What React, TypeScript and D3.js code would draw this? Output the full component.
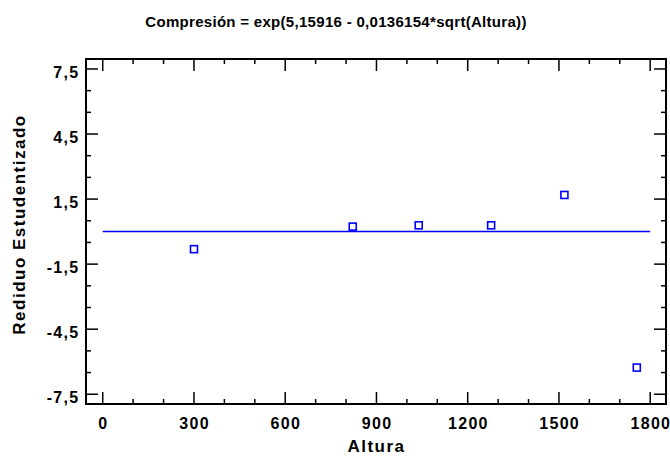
import React from "react";
import * as d3 from "d3";

const alturaValues = [300, 822, 1039, 1277, 1518, 1756];
const residuoValues = [-0.81, 0.23, 0.29, 0.29, 1.69, -6.27];
const xTickValues = [0, 300, 600, 900, 1200, 1500, 1800];
const yTickValues = [-7.5, -4.5, -1.5, 1.5, 4.5, 7.5];
const titleText = "Compresión = exp(5,15916 - 0,0136154*sqrt(Altura))";
const xLabel = "Altura";
const yLabel = "Rediduo Estudentizado";

const W = 670;
const H = 458;
const left = 86, right = 666, top = 59, bottom = 404;
const font = "'Liberation Sans', Arial, sans-serif";

export default function App() {
  const x = d3.scaleLinear().domain([-55, 1852]).range([left, right]);
  const y = d3.scaleLinear().domain([-7.95, 7.96]).range([bottom, top]);
  const fmt = (v: number) => String(v).replace(".", ",");
  const xMinor = d3.range(0, 1801, 100).filter((v) => v % 300 !== 0);
  const yMinor = d3.range(-7.5, 7.6, 1).filter((v) => Math.abs(((v + 7.5) % 3)) > 0.01);
  const major = 12, minor = 5;
  return (
    <svg width={W} height={H} style={{ position: "absolute", left: 0, top: 0, background: "#fff" }}>
      <text x={336} y={27} textAnchor="middle" fontFamily={font} fontWeight="bold" fontSize={15} letterSpacing={0.3} fill="#000">{titleText}</text>
      {/* ticks */}
      <g stroke="#000" strokeWidth={1.5}>
        {xTickValues.map((v) => (
          <g key={"xt" + v}>
            <line x1={x(v)} x2={x(v)} y1={bottom} y2={bottom - major} />
            <line x1={x(v)} x2={x(v)} y1={top} y2={top + major} />
          </g>
        ))}
        {xMinor.map((v) => (
          <g key={"xm" + v}>
            <line x1={x(v)} x2={x(v)} y1={bottom} y2={bottom - minor} />
            <line x1={x(v)} x2={x(v)} y1={top} y2={top + minor} />
          </g>
        ))}
        {yTickValues.map((v) => (
          <g key={"yt" + v}>
            <line x1={left} x2={left + major} y1={y(v)} y2={y(v)} />
            <line x1={right} x2={right - major} y1={y(v)} y2={y(v)} />
          </g>
        ))}
        {yMinor.map((v) => (
          <g key={"ym" + v}>
            <line x1={left} x2={left + minor} y1={y(v)} y2={y(v)} />
            <line x1={right} x2={right - minor} y1={y(v)} y2={y(v)} />
          </g>
        ))}
      </g>
      <rect x={left} y={top} width={right - left} height={bottom - top} fill="none" stroke="#000" strokeWidth={2} />
      {/* zero line */}
      <line x1={x(0)} x2={x(1800)} y1={y(0)} y2={y(0)} stroke="#0000ff" strokeWidth={1.5} />
      {alturaValues.map((v, i) => (
        <rect key={"p" + i} x={x(v) - 3.5} y={y(residuoValues[i]) - 3.5} width={7} height={7} fill="none" stroke="#0000ff" strokeWidth={1.6} />
      ))}
      {/* labels */}
      {xTickValues.map((v) => (
        <text key={"xl" + v} x={x(v) + 0.7} y={429} textAnchor="middle" fontFamily={font} fontWeight="bold" fontSize={16} letterSpacing={1.3} fill="#000">{fmt(v)}</text>
      ))}
      {yTickValues.map((v) => (
        <text key={"yl" + v} x={79.5} y={y(v) + 9} textAnchor="end" fontFamily={font} fontWeight="bold" fontSize={16} letterSpacing={1.3} fill="#000">{fmt(v)}</text>
      ))}
      <text x={376.5} y={451.5} textAnchor="middle" fontFamily={font} fontWeight="bold" fontSize={17} letterSpacing={1.5} fill="#000">{xLabel}</text>
      <text transform={`translate(25, ${224.5}) rotate(-90)`} textAnchor="middle" fontFamily={font} fontWeight="bold" fontSize={17} letterSpacing={1.5} fill="#000">{yLabel}</text>
    </svg>
  );
}
